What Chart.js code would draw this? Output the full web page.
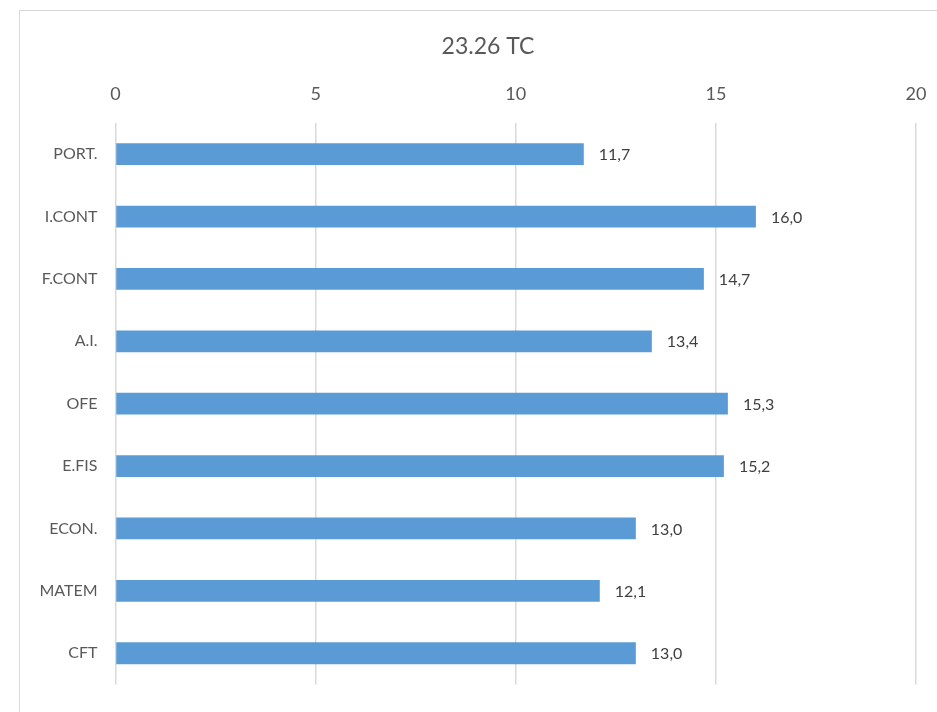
<!DOCTYPE html>
<html>
<head>
<meta charset="utf-8">
<script src="https://cdn.jsdelivr.net/npm/chart.js@4.4.1/dist/chart.umd.min.js"></script>
<style>
    html, body { margin: 0; padding: 0; background: #fff; }
    #wrap { position: relative; width: 937px; height: 712px; overflow: hidden; }
    #frame {
        position: absolute; left: 19px; top: 10px;
        width: 937px; height: 760px;
        border: 1px solid #d9d9d9;
    }
    #chart { position: absolute; left: 0; top: 0; }
</style>
</head>
<body>
<div id="wrap">
    <div id="frame"></div>
    <canvas id="chart" width="937" height="712"></canvas>
</div>
<script>
const subjects = ['PORT.', 'I.CONT', 'F.CONT', 'A.I.', 'OFE', 'E.FIS', 'ECON.', 'MATEM', 'CFT'];
const averages = [11.7, 16.0, 14.7, 13.4, 15.3, 15.2, 13.0, 12.1, 13.0];
const xTicks = [0, 5, 10, 15, 20];
const chartTitle = '23.26 TC';

const fontFamily = 'Lato, \'Liberation Sans\', sans-serif';

/**
 * Draws the value at the end of every bar, comma decimals
 */
const pluginBarValues = {
    id: 'barValues',
    afterDatasetsDraw: function(chart) {
        'use strict';
        const ctx = chart.ctx;
        const meta = chart.getDatasetMeta(0);
        ctx.save();
        ctx.font = '16px ' + fontFamily;
        ctx.fillStyle = '#404040';
        ctx.textAlign = 'left';
        ctx.textBaseline = 'middle';
        meta.data.forEach(function(bar, i) {
            const value = chart.data.datasets[0].data[i];
            const text = value.toFixed(1).replace('.', ',');
            ctx.fillText(text, bar.x + 15, bar.y + 1);
        });
        ctx.restore();
    },
};

/**
 * Title centred on the outer frame rather than on the canvas
 */
const pluginFrameTitle = {
    id: 'frameTitle',
    afterDraw: function(chart) {
        'use strict';
        const ctx = chart.ctx;
        ctx.save();
        ctx.font = '23px ' + fontFamily;
        ctx.fillStyle = '#595959';
        ctx.textAlign = 'center';
        ctx.textBaseline = 'middle';
        ctx.fillText(chartTitle, (chart.width + 39) / 2, 47);
        ctx.restore();
    },
};

new Chart(document.getElementById('chart'), {
    type: 'bar',
    data: {
        labels: subjects,
        datasets: [{
            data: averages,
            backgroundColor: '#5b9bd5',
            borderWidth: 0,
            categoryPercentage: 1,
            barPercentage: 0.35,
        }],
    },
    options: {
        indexAxis: 'y',
        responsive: false,
        animation: false,
        layout: {
            padding: {left: 0, right: 21, top: 60, bottom: 24},
        },
        plugins: {
            legend: {display: false},
            tooltip: {enabled: false},
            title: {display: false},
        },
        scales: {
            x: {
                position: 'top',
                min: 0,
                max: 20,
                afterBuildTicks: function(scale) {
                    scale.ticks = xTicks.map(function(v) {
                        return {value: v};
                    });
                },
                afterFit: function(scale) {
                    scale.height = 63;
                    scale.paddingLeft = 0;
                    scale.paddingRight = 0;
                },
                grid: {color: '#d9d9d9', lineWidth: 1.5, drawTicks: false},
                border: {display: false},
                ticks: {
                    color: '#595959',
                    padding: 18,
                    font: {family: fontFamily, size: 18},
                },
            },
            y: {
                afterFit: function(scale) {
                    scale.width = 115.5;
                },
                grid: {display: false, drawTicks: false},
                border: {display: false},
                ticks: {
                    color: '#595959',
                    padding: 18,
                    font: {family: fontFamily, size: 16},
                },
            },
        },
    },
    plugins: [pluginBarValues, pluginFrameTitle],
});
</script>
</body>
</html>
